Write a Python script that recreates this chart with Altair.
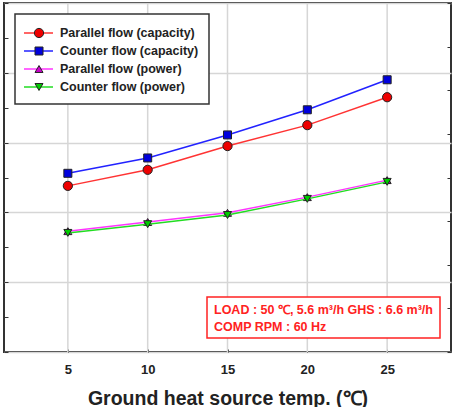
import altair as alt
import pandas as pd

# Ground heat source temperature (°C)
temps = [5, 10, 15, 20, 25]

# Heating capacity (left scale)
cap_parallel = [2.38, 2.61, 2.95, 3.25, 3.65]
cap_counter = [2.56, 2.78, 3.11, 3.47, 3.90]

# Compressor power (right scale)
pow_parallel = [2.77, 2.98, 3.19, 3.55, 3.94]
pow_counter = [2.73, 2.93, 3.14, 3.51, 3.90]

series_names = [
    "Parallel flow (capacity)",
    "Counter flow (capacity)",
    "Parallel flow (power)",
    "Counter flow (power)",
]
line_colors = ["#ff3333", "#2222ff", "#ff33ff", "#22dd22"]
fill_colors = ["#ee0000", "#0000dd", "#cc00cc", "#00cc00"]
shapes = ["circle", "square", "triangle-up", "triangle-down"]
sizes = [85, 64, 64, 64]

FONT = "Liberation Sans"
GRID = "#d6d6d6"


def frame(values, idx):
    return pd.DataFrame({"temp": temps, "value": values, "series": series_names[idx]})


cap_df = pd.concat([frame(cap_parallel, 0), frame(cap_counter, 1)])
pow_df = pd.concat([frame(pow_parallel, 2), frame(pow_counter, 3)])

x_scale = alt.Scale(domain=[1, 29], nice=False)
x_enc = alt.X(
    "temp:Q",
    scale=x_scale,
    axis=alt.Axis(
        values=temps,
        title="Ground heat source temp. (℃)",
        titleFont=FONT,
        titleFontSize=19.5,
        titleFontWeight="bold",
        titleColor="#222222",
        titlePadding=13,
        labelFont=FONT,
        labelFontSize=13,
        labelFontWeight="bold",
        labelColor="#222222",
        labelPadding=14,
        labelFlush=False,
        grid=False,
        domain=False,
        ticks=True,
        tickColor="#333333",
        tickSize=alt.ExprRef(expr="-3"),
    ),
)

# Vertical gridlines at each temperature tick (this layer also carries the x axis)
x_grid = alt.Chart(pd.DataFrame({"temp": temps})).mark_rule(
    color=GRID, strokeWidth=1.5
).encode(x=x_enc, y=alt.value(0), y2=alt.value(349))


def series_layer(df, y_enc, order_names):
    layers = []
    for name in order_names:
        i = series_names.index(name)
        sub = df[df["series"] == name]
        base = alt.Chart(sub)
        line = base.mark_line(strokeWidth=1.5, color=line_colors[i]).encode(x=x_enc, y=y_enc)
        pts = base.mark_point(
            filled=True,
            shape=shapes[i],
            size=sizes[i],
            fill=fill_colors[i],
            stroke="#222222",
            strokeWidth=1,
            opacity=1,
        ).encode(x=x_enc, y=y_enc)
        layers += [line, pts]
    return alt.layer(*layers)


y_cap = alt.Y(
    "value:Q",
    scale=alt.Scale(domain=[0, 5], nice=False),
    axis=alt.Axis(
        orient="left",
        values=[i * 0.5 for i in range(11)],
        labels=False,
        title=None,
        domain=False,
        grid=True,
        gridColor=GRID,
        gridWidth=1.5,
        gridOpacity=alt.condition("datum.value % 1 === 0", alt.value(1), alt.value(0)),
        ticks=True,
        tickColor="#333333",
        tickSize=alt.ExprRef(expr="-4"),
    ),
)

y_pow = alt.Y(
    "value:Q",
    scale=alt.Scale(domain=[0, 8], nice=False),
    axis=alt.Axis(
        orient="right",
        values=list(range(9)),
        labels=False,
        title=None,
        domain=False,
        grid=False,
        ticks=True,
        tickColor="#333333",
        tickSize=alt.ExprRef(expr="-4"),
    ),
)

cap_layer = series_layer(cap_df, y_cap, series_names[:2])
pow_layer = series_layer(pow_df, y_pow, series_names[2:])

# Legend panel
legend_box = alt.Chart(pd.DataFrame({"a": [0]})).mark_rect(
    fill="white", stroke="#333333", strokeWidth=1.5
).encode(x=alt.value(11), x2=alt.value(205), y=alt.value(11), y2=alt.value(101))

legend_layers = [legend_box]
row_y = [30, 48, 66, 84]
for i, name in enumerate(series_names):
    d = pd.DataFrame({"label": [name]})
    legend_layers.append(
        alt.Chart(d).mark_rule(color=line_colors[i], strokeWidth=1.5).encode(
            x=alt.value(20), x2=alt.value(49), y=alt.value(row_y[i])
        )
    )
    legend_layers.append(
        alt.Chart(d).mark_point(
            filled=True, shape=shapes[i], size=sizes[i], fill=fill_colors[i],
            stroke="#222222", strokeWidth=1, opacity=1,
        ).encode(x=alt.value(35), y=alt.value(row_y[i]))
    )
    legend_layers.append(
        alt.Chart(d).mark_text(
            align="left", baseline="middle", font=FONT, fontSize=12.5,
            fontWeight="bold", color="#222222",
        ).encode(x=alt.value(56), y=alt.value(row_y[i]), text="label:N")
    )

# Operating condition note
note_lines = ["LOAD : 50 ℃, 5.6 m³/h GHS : 6.6 m³/h", "COMP RPM : 60 Hz"]
note_box = alt.Chart(pd.DataFrame({"a": [0]})).mark_rect(
    fill="white", stroke="#ff2222", strokeWidth=1.5
).encode(x=alt.value(203), x2=alt.value(436), y=alt.value(294), y2=alt.value(335))
note_layers = [note_box]
for j, txt in enumerate(note_lines):
    note_layers.append(
        alt.Chart(pd.DataFrame({"t": [txt]})).mark_text(
            align="left", baseline="middle", font=FONT, fontSize=12.5,
            fontWeight="bold", color="#ff2222",
        ).encode(x=alt.value(210), y=alt.value(307 + 17 * j), text="t:N")
    )

chart = (
    alt.layer(x_grid, cap_layer, pow_layer, *legend_layers, *note_layers)
    .resolve_scale(y="independent")
    .properties(
        width=447,
        height=349,
        autosize=alt.AutoSizeParams(type="none"),
        padding={"left": 4, "top": 3, "right": 6, "bottom": 55},
        background="white",
    )
    .configure_view(stroke="#333333", strokeWidth=2)
)

chart.save("out.html", embed_options={"renderer": "svg", "actions": False})
